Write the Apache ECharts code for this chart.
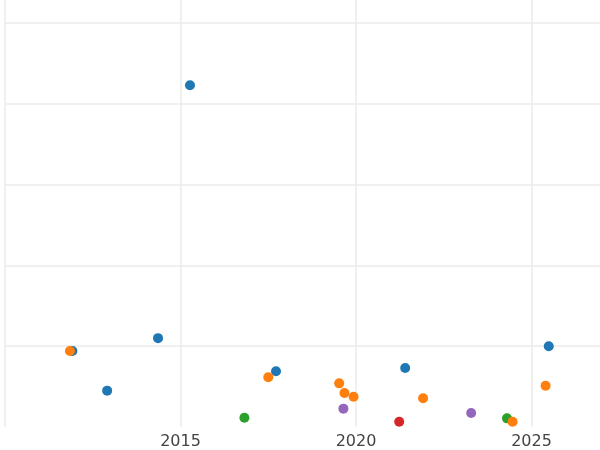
<!DOCTYPE html>
<html>
<head>
<meta charset="utf-8">
<script src="https://cdn.jsdelivr.net/npm/echarts@6/dist/echarts.min.js"></script>
<style>html,body{margin:0;padding:0;background:#fff}#c{width:600px;height:450px}</style>
</head>
<body>
<div id="c"></div>
<script>
// Decimal-year x positions and y values per group
const blueX = [2015.27, 2014.36, 2012.91, 2011.92, 2017.72, 2021.40, 2025.49];
const blueY = [4.23, 1.10, 0.45, 0.94, 0.69, 0.73, 1.00];
const orangeX = [2011.85, 2017.50, 2019.52, 2019.67, 2019.93, 2021.91, 2025.40, 2024.46];
const orangeY = [0.94, 0.615, 0.54, 0.42, 0.375, 0.355, 0.51, 0.066];
const greenX = [2016.82, 2024.30];
const greenY = [0.115, 0.107];
const redX = [2021.23];
const redY = [0.066];
const purpleX = [2019.64, 2023.28];
const purpleY = [0.227, 0.173];
const xTickLabels = ['2015', '2020', '2025'];

function pts(xs, ys) { return xs.map((x, i) => [x, ys[i]]); }
function ser(name, xs, ys, color) {
  return { name, type: 'scatter', symbolSize: 10, data: pts(xs, ys),
    itemStyle: { color, opacity: 1 }, emphasis: { disabled: true } };
}

const chart = echarts.init(document.getElementById('c'), null, { renderer: 'canvas' });
chart.setOption({
  animation: false,
  backgroundColor: '#ffffff',
  grid: { left: 5, right: 0, top: 0, bottom: 23, containLabel: false },
  xAxis: {
    type: 'value', min: 2010, max: 2026.95, interval: 5,
    axisLine: { show: false }, axisTick: { show: false },
    splitLine: { show: true, showMinLine: true, showMaxLine: false, lineStyle: { color: '#ebebeb', width: 1.5 } },
    axisLabel: {
      fontSize: 16, color: '#444444', margin: 7, fontFamily: 'DejaVu Sans',
      showMinLabel: false, showMaxLabel: false,
      formatter: v => xTickLabels.includes(String(v)) ? String(v) : ''
    }
  },
  yAxis: {
    type: 'value', min: 0, max: 5.285, interval: 1,
    axisLine: { show: false }, axisTick: { show: false }, axisLabel: { show: false },
    splitLine: { show: true, showMinLine: false, showMaxLine: false, lineStyle: { color: '#ebebeb', width: 1.5 } }
  },
  series: [
    ser('A', blueX, blueY, '#1f77b4'),
    ser('C', greenX, greenY, '#2ca02c'),
    ser('B', orangeX, orangeY, '#ff7f0e'),
    ser('D', redX, redY, '#d62728'),
    ser('E', purpleX, purpleY, '#9467bd')
  ]
});
</script>
</body>
</html>
